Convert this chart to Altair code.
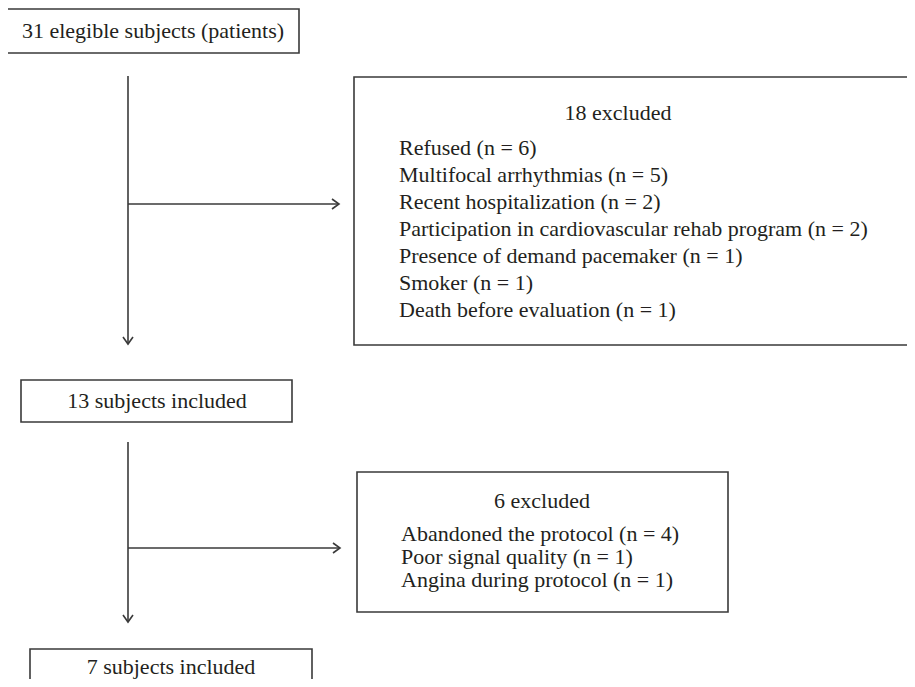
import altair as alt
import pandas as pd

W, H = 899, 671
OFF = 8

# ---- text content of the flow diagram ----
start_label = ["31 elegible subjects (patients)"]
excl1_title = ["18 excluded"]
excl1_items = [
    "Refused (n = 6)",
    "Multifocal arrhythmias (n = 5)",
    "Recent hospitalization (n = 2)",
    "Participation in cardiovascular rehab program (n = 2)",
    "Presence of demand pacemaker (n = 1)",
    "Smoker (n = 1)",
    "Death before evaluation (n = 1)",
]
mid_label = ["13 subjects included"]
excl2_title = ["6 excluded"]
excl2_items = [
    "Abandoned the protocol (n = 4)",
    "Poor signal quality (n = 1)",
    "Angina during protocol (n = 1)",
]
end_label = ["7 subjects included"]

# ---- layout of the diagram (page pixel coordinates) ----
box_x1 = [7, 354, 21, 357, 30]
box_x2 = [299, 930, 292, 728, 312]
box_y1 = [9, 77, 380, 472, 649]
box_y2 = [53, 345, 422, 612, 720]

seg_x1 = [128, 128, 128, 128]
seg_y1 = [76, 204, 442, 548]
seg_x2 = [128, 339, 128, 340]
seg_y2 = [344, 204, 622, 548]

head_x = [128, 339, 128, 340]
head_y = [344, 204, 622, 548]
head_angle = [90, 0, 90, 0]

center_text = start_label + excl1_title + mid_label + excl2_title + end_label
center_x = [153, 618, 157, 542, 171]
center_y = [31, 113, 401, 501, 667]

left_text = excl1_items + excl2_items
left_x = [399] * 7 + [401] * 3
left_y = [148, 175, 202, 229, 256, 283, 310, 534, 557, 580]

boxes = pd.DataFrame({"x": box_x1, "x2": box_x2, "y": box_y1, "y2": box_y2})
segs = pd.DataFrame({"x": seg_x1, "x2": seg_x2, "y": seg_y1, "y2": seg_y2})
heads = pd.DataFrame({"x": head_x, "y": head_y, "a": head_angle})
ctext = pd.DataFrame({"x": center_x, "y": center_y, "t": center_text})
ltext = pd.DataFrame({"x": left_x, "y": left_y, "t": left_text})

xs = alt.Scale(domain=[OFF, OFF + W], nice=False, zero=False)
ys = alt.Scale(domain=[OFF, OFF + H], nice=False, zero=False, reverse=True)

LINE = "#3a3a3a"
TXT = "#231f20"
FONT = "Liberation Serif"
FS = 22

box_layer = alt.Chart(boxes).mark_rect(
    filled=False, stroke=LINE, strokeWidth=1.6, clip=True
).encode(
    x=alt.X("x:Q", scale=xs, axis=None), x2="x2:Q",
    y=alt.Y("y:Q", scale=ys, axis=None), y2="y2:Q",
)

seg_layer = alt.Chart(segs).mark_rule(color=LINE, strokeWidth=1.6).encode(
    x=alt.X("x:Q", scale=xs, axis=None), x2="x2:Q",
    y=alt.Y("y:Q", scale=ys, axis=None), y2="y2:Q",
)

head_layer = alt.Chart(heads).mark_point(
    shape="M -1.4 -1 L 0 0 L -1.4 1", filled=False, size=100,
    stroke=LINE, strokeWidth=1.6, opacity=1,
).encode(
    x=alt.X("x:Q", scale=xs, axis=None),
    y=alt.Y("y:Q", scale=ys, axis=None),
    angle=alt.Angle("a:Q", scale=None),
)

ctext_layer = alt.Chart(ctext).mark_text(
    font=FONT, fontSize=FS, color=TXT, align="center", baseline="middle"
).encode(
    x=alt.X("x:Q", scale=xs, axis=None),
    y=alt.Y("y:Q", scale=ys, axis=None),
    text="t:N",
)

ltext_layer = alt.Chart(ltext).mark_text(
    font=FONT, fontSize=FS, color=TXT, align="left", baseline="middle"
).encode(
    x=alt.X("x:Q", scale=xs, axis=None),
    y=alt.Y("y:Q", scale=ys, axis=None),
    text="t:N",
)

chart = alt.layer(
    box_layer, seg_layer, head_layer, ctext_layer, ltext_layer
).properties(
    width=W, height=H, padding=0,
    autosize=alt.AutoSizeParams(type="none"),
).configure_view(strokeWidth=0)

chart.save("out.html", embed_options={"renderer": "svg", "actions": False})
